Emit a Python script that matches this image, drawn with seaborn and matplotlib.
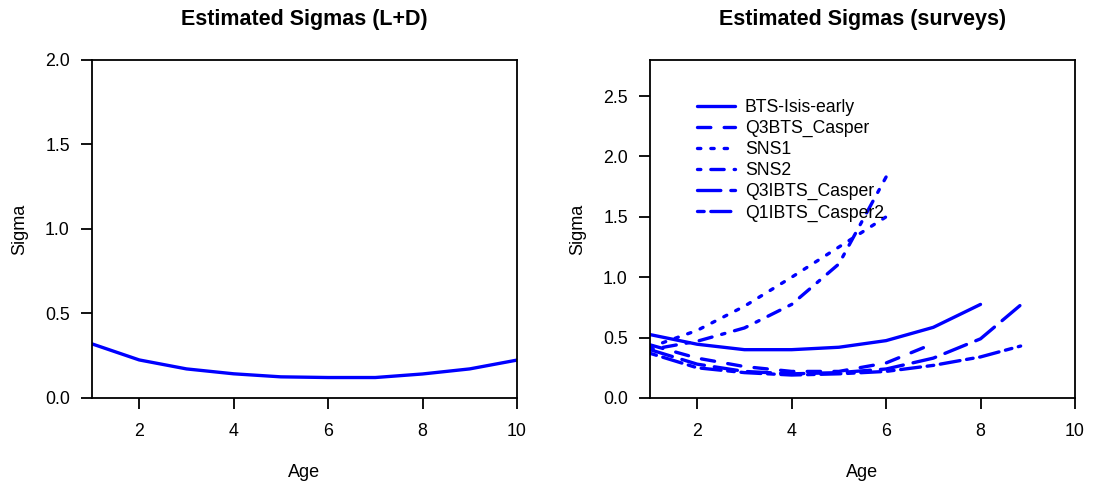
import matplotlib
matplotlib.use("Agg")
import matplotlib.pyplot as plt
import seaborn as sns

# L+D sigma by age
ld_ages = [1, 2, 3, 4, 5, 6, 7, 8, 9, 10]
ld_sigma = [0.32, 0.225, 0.172, 0.143, 0.125, 0.121, 0.121, 0.142, 0.172, 0.224]

# survey sigmas
survey_names = ["BTS-Isis-early", "Q3BTS_Casper", "SNS1", "SNS2",
                "Q3IBTS_Casper", "Q1IBTS_Casper2"]
bts_ages = [1, 2, 3, 4, 5, 6, 7, 8]
bts_sigma = [0.525, 0.445, 0.40, 0.40, 0.42, 0.475, 0.585, 0.775]
q3bts_ages = [1, 2, 3, 4, 5, 6, 7]
q3bts_sigma = [0.44, 0.33, 0.26, 0.22, 0.22, 0.29, 0.45]
sns1_ages = [1, 2, 3, 4, 5, 6]
sns1_sigma = [0.42, 0.56, 0.76, 1.0, 1.25, 1.5]
sns2_ages = [1, 2, 3, 4, 5, 6]
sns2_sigma = [0.40, 0.47, 0.58, 0.775, 1.11, 1.83]
q3ibts_ages = [1, 2, 3, 4, 5, 6, 7, 8, 8.85]
q3ibts_sigma = [0.40, 0.28, 0.22, 0.20, 0.21, 0.24, 0.33, 0.49, 0.77]
q1ibts_ages = [1, 2, 3, 4, 5, 6, 7, 8, 8.85]
q1ibts_sigma = [0.37, 0.25, 0.21, 0.19, 0.20, 0.22, 0.27, 0.34, 0.43]

survey_ages = [bts_ages, q3bts_ages, sns1_ages, sns2_ages, q3ibts_ages, q1ibts_ages]
survey_sigma = [bts_sigma, q3bts_sigma, sns1_sigma, sns2_sigma, q3ibts_sigma, q1ibts_sigma]
# R lty 1..6
line_styles = ["-", (0, (4, 4)), (0, (1, 3)), (0, (1, 3, 4, 3)),
               (0, (7, 3)), (0, (2, 2, 6, 2))]

sns.set_style("ticks")
plt.rcParams["font.family"] = ["Liberation Sans", "DejaVu Sans"]
for k in ["text.color", "axes.labelcolor", "xtick.color", "ytick.color", "axes.edgecolor"]:
    plt.rcParams[k] = "black"
plt.rcParams["axes.linewidth"] = 1.3
plt.rcParams["xtick.major.width"] = 1.3
plt.rcParams["ytick.major.width"] = 1.3
plt.rcParams["xtick.major.size"] = 8
plt.rcParams["ytick.major.size"] = 8
plt.rcParams["xtick.labelsize"] = 12.8
plt.rcParams["ytick.labelsize"] = 12.8

fig = plt.figure(figsize=(10.98, 4.9), dpi=100)
ax1 = fig.add_axes([0.0838, 0.1878, 0.387, 0.690])
ax2 = fig.add_axes([0.592, 0.1878, 0.387, 0.690])

LW = 2.4
TITLE_FS = 15.5

sns.lineplot(x=ld_ages, y=ld_sigma, ax=ax1, color="blue", lw=LW,
             solid_capstyle="round")
ax1.set_xlim(1, 10)
ax1.set_ylim(0, 2.0)
ax1.set_yticks([0, 0.5, 1.0, 1.5, 2.0])
ax1.set_title("Estimated Sigmas (L+D)", fontweight="bold", fontsize=TITLE_FS, pad=25)

for name, ages, vals, ls in zip(survey_names, survey_ages, survey_sigma, line_styles):
    sns.lineplot(x=ages, y=vals, ax=ax2, color="blue", lw=LW, linestyle=ls,
                 label=name, solid_capstyle="round", dash_capstyle="round")
ax2.set_xlim(1, 10)
ax2.set_ylim(0, 2.8)
ax2.set_yticks([0, 0.5, 1.0, 1.5, 2.0, 2.5])
ax2.set_title("Estimated Sigmas (surveys)", fontweight="bold", fontsize=TITLE_FS, pad=25)
ax2.legend(loc="upper left", bbox_to_anchor=(0.11, 0.885), frameon=False,
           fontsize=12.7, handlelength=2.15, handletextpad=0.57,
           labelspacing=0.23, borderaxespad=0, borderpad=0)

for ax in (ax1, ax2):
    ax.set_xticks([2, 4, 6, 8, 10])
    ax.set_yticklabels([f"{t:.1f}" for t in ax.get_yticks()])
    ax.set_xlabel("Age", fontsize=13, labelpad=17)
    ax.set_ylabel("Sigma", fontsize=13, labelpad=12)
    ax.tick_params(axis="x", pad=10)
    ax.tick_params(axis="y", pad=8)
    for s in ax.spines.values():
        s.set_visible(True)
        s.set_color("black")

fig.savefig("out.png", dpi=100)
